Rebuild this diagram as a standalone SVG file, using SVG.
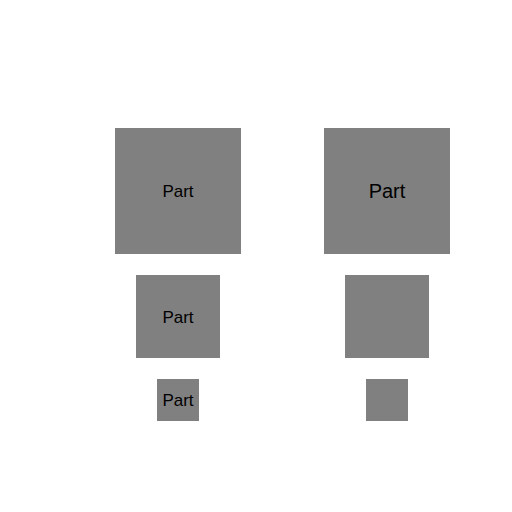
<svg xmlns="http://www.w3.org/2000/svg" width="512" height="512" viewBox="0 0 512 512">
<style>
.box{fill:#808080;stroke:none}
.t{font-family:"Liberation Sans",Arial,sans-serif;fill:#000;text-anchor:middle;dominant-baseline:central}
.s{font-size:17px}
.l{font-size:20px}
</style>
<rect width="512" height="512" fill="#fff"/>
<g id="node-a1"><rect class="box" x="115" y="128" width="126" height="126"/><text class="t s" x="178" y="191">Part</text></g>
<g id="node-a2"><rect class="box" x="136" y="275" width="84" height="83"/><text class="t s" x="178" y="317">Part</text></g>
<g id="node-a3"><rect class="box" x="157" y="379" width="42" height="42"/><text class="t s" x="178" y="400">Part</text></g>
<g id="node-b1"><rect class="box" x="324" y="128" width="126" height="126"/><text class="t l" x="387" y="191">Part</text></g>
<g id="node-b2"><rect class="box" x="345" y="275" width="84" height="83"/></g>
<g id="node-b3"><rect class="box" x="366" y="379" width="42" height="42"/></g>
<g id="connectors"></g>
</svg>
